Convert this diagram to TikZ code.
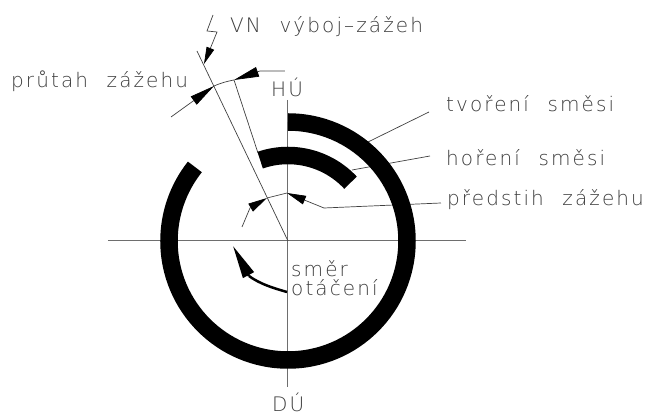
\documentclass[tikz,border=0pt]{standalone}
\usepackage{fontspec}
\setmainfont[UprightFont=* ExtraLight,LetterSpace=10.5,WordSpace=2.2]{DejaVu Sans}
\usetikzlibrary{arrows.meta,calc}
\definecolor{DInk}{HTML}{000000}
\definecolor{DLine}{HTML}{6E6E6E}
\definecolor{DText}{HTML}{3C3C3C}
\begin{document}
\begin{tikzpicture}[x=1pt, y=1pt,
  axisline/.style={DLine, line width=1pt},
  thinline/.style={DInk!75, line width=0.7pt},
  dimtip/.style={thinline, -{Triangle[length=25pt,width=10pt,fill=DInk,color=DInk]}},
  shorttip/.style={thinline, -{Triangle[length=19pt,width=9pt,fill=DInk,color=DInk]}},
  sparktip/.style={thinline, -{Triangle[length=17pt,width=8pt,fill=DInk,color=DInk]}},
  ringband/.style={DInk, line width=17.5pt},
  label/.style={font=\fontsize{20}{20}\selectfont, text=DText, anchor=base west, inner sep=0pt}]
\useasboundingbox (-288,-176) rectangle (358,241);
% axes
\coordinate (osaL) at (-180,0);
\coordinate (osaR) at (178,0);
\coordinate (osaT) at (0,141);
\coordinate (osaB) at (0,-146);
\coordinate (stred) at (0,0);
\draw[axisline] (osaL) -- (osaR);
\draw[axisline] (osaT) -- (osaB);
% texts
\node[label] (hu) at (-17,144) {HÚ};
\node[label] (du) at (-16,-171) {DÚ};
\node[label] (vyboj) at (-58,208) {VN výboj–zážeh};
\node[label] (prutah) at (-277,153) {průtah zážehu};
\node[label] (tvoreni) at (158,129) {tvoření směsi};
\node[label] (horeni) at (158,75) {hoření směsi};
\node[label] (predstih) at (159,35) {předstih zážehu};
\node[label] (smer) at (3,-36) {směr};
\node[label] (otaceni) at (3,-55) {otáčení};
% leaders
\coordinate (t1) at (141,129);
\coordinate (t2) at (80,99);
\coordinate (h1) at (142,85);
\coordinate (h2) at (64,71);
\draw[thinline] (t1) -- (t2);
\draw[thinline] (h1) -- (h2);
% spark and timing lines
\coordinate (v1) at (-91,190);
\coordinate (v2) at (-54,161);
\coordinate (v3) at (-30,88);
\draw[thinline] (v1) -- (stred);
\draw[thinline] (v2) -- (v3);
\coordinate (b1) at (-71,209);
\draw[sparktip] (-75,226) -- (-81,210) -- (b1) -- (-84,177);
% pruntah
\coordinate (p1) at (-74,155);
\coordinate (p0) at (-117,124);
\coordinate (p2) at (-3,170);
\draw[dimtip] (p0) -- (p1);
\draw[thinline] (p1) to[bend left=6] (v2);
\draw[dimtip] (p2) -- (-28,170) -- (v2);
% predstih
\coordinate (q0) at (-46,14);
\coordinate (q1) at (-21,43);
\coordinate (q2) at (-1,48);
\coordinate (q3) at (36,33);
\coordinate (q4) at (153,38);
\draw[shorttip] (q0) -- (-38,33) -- (q1);
\draw[thinline] (q1) -- (q2);
\draw[shorttip] (q3) -- (q2);
\draw[thinline] (q4) -- (q3);
% thick bands
\draw[ringband] (90:119) arc[start angle=90, end angle=-218.5, radius=119];
\draw[ringband] (109:85.5) arc[start angle=109, end angle=43, radius=85.5];
% rotation
\coordinate (s1) at (-1,-51);
\coordinate (s2) at (-39,-35);
\coordinate (s3) at (-55,-5);
\draw[DInk, line width=2.5pt] (s1) .. controls (-15,-47) and (-28,-43) .. (s2);
\draw[DInk, line width=2.5pt, -{Triangle[length=33pt,width=12pt]}] (s2) -- (s3);
\end{tikzpicture}
\end{document}
